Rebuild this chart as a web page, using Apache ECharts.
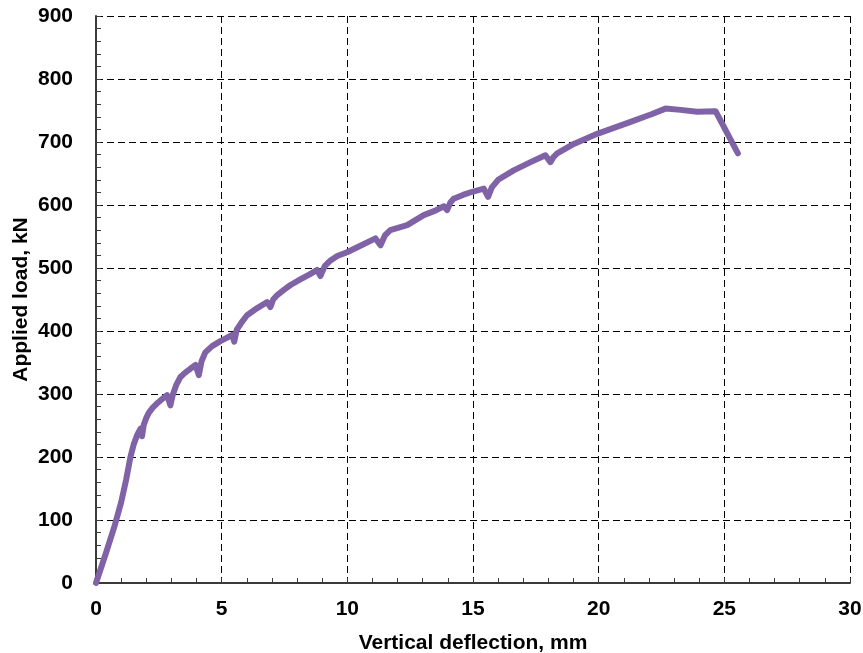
<!DOCTYPE html>
<html>
<head>
<meta charset="utf-8">
<script src="https://cdn.jsdelivr.net/npm/echarts@6/dist/echarts.min.js"></script>
<style>
  html, body { margin: 0; padding: 0; background: #ffffff; }
  #chart { width: 863px; height: 653px; }
</style>
</head>
<body>
<div id="chart"></div>
<script>
// 读图得到的数据点 (mm, kN)
const deflection = [
  0, 0.4, 0.75, 1.0, 1.2, 1.37, 1.5, 1.65, 1.77, 1.83, 1.9, 2.0,
  2.1, 2.25, 2.4, 2.6, 2.83, 2.96, 3.05, 3.2, 3.36, 3.55, 3.75, 3.96, 4.09,
  4.2, 4.35, 4.62, 4.95, 5.2, 5.42, 5.5, 5.6, 5.8, 6.01, 6.4, 6.81, 6.94, 7.05,
  7.21, 7.5, 7.74, 8.13, 8.5, 8.8, 8.93, 9.1, 9.33, 9.6, 9.99, 10.5, 11.12,
  11.32, 11.5, 11.71, 12.38, 13.04, 13.5, 13.84, 13.97, 14.1, 14.23, 14.6,
  14.97, 15.43, 15.6, 15.75, 16.0, 16.62, 17.29, 17.88, 18.08, 18.2, 18.35,
  19.01, 19.94, 21.27, 22.1, 22.66, 23.26, 23.92, 24.65, 25.54
]
const load = [
  0, 48, 92, 128, 164, 200, 220, 236, 245, 233, 251, 262,
  270, 278, 284, 291, 298, 282, 298, 315, 327, 334, 340, 346, 330,
  352, 366, 376, 384, 389, 394, 383, 402, 414, 425, 436, 446, 438, 450,
  457, 466, 473, 482, 490, 497, 487, 503, 512, 519, 525, 535, 547,
  536, 552, 560, 568, 584, 591, 598, 592, 604, 610, 616,
  621, 626, 613, 628, 640, 655, 668, 679, 668, 676, 682,
  697, 713, 732, 744, 753, 751, 748, 749, 682
]
const xTicks = [0, 5, 10, 15, 20, 25, 30]
const yTicks = [0, 100, 200, 300, 400, 500, 600, 700, 800, 900]

const points = deflection.map((x, i) => [x, load[i]])

const font = 'Liberation Sans, Arial, sans-serif'
const dashLine = {
  show: true,
  lineStyle: { color: '#000000', width: 1, type: [7, 4] },
}

const chart = echarts.init(document.getElementById('chart'))
chart.setOption({
  animation: false,
  grid: {
    left: 96,
    right: 13,
    top: 16,
    bottom: 70,
    containLabel: false,
    outerBoundsMode: 'none',
  },
  xAxis: {
    type: 'value',
    min: xTicks[0],
    max: xTicks[xTicks.length - 1],
    interval: 5,
    name: 'Vertical deflection, mm',
    nameLocation: 'middle',
    nameGap: 50,
    nameMoveOverlap: false,
    nameTextStyle: { color: '#000000', fontFamily: font, fontWeight: 'bold', fontSize: 21 },
    axisLine: { show: true, onZero: false, lineStyle: { color: '#3a3a3a', width: 2 } },
    axisTick: { show: true, inside: true, length: 5, lineStyle: { color: '#3a3a3a' } },
    minorTick: { show: true, splitNumber: 5, length: 5, lineStyle: { color: '#3a3a3a' } },
    axisLabel: { color: '#000000', fontFamily: font, fontWeight: 'bold', fontSize: 21, margin: 16 },
    splitLine: dashLine,
  },
  yAxis: {
    type: 'value',
    min: yTicks[0],
    max: yTicks[yTicks.length - 1],
    interval: 100,
    name: 'Applied load, kN',
    nameLocation: 'middle',
    nameGap: 64,
    nameMoveOverlap: false,
    nameTextStyle: { color: '#000000', fontFamily: font, fontWeight: 'bold', fontSize: 21 },
    axisLine: { show: true, onZero: false, lineStyle: { color: '#3a3a3a', width: 2 } },
    axisTick: { show: true, inside: true, length: 5, lineStyle: { color: '#3a3a3a' } },
    minorTick: { show: true, splitNumber: 5, length: 5, lineStyle: { color: '#3a3a3a' } },
    axisLabel: { color: '#000000', fontFamily: font, fontWeight: 'bold', fontSize: 21, margin: 23 },
    splitLine: dashLine,
  },
  series: [
    {
      type: 'line',
      data: points,
      symbol: 'none',
      smooth: false,
      lineStyle: { color: '#7F63A6', width: 6, cap: 'round', join: 'round' },
    },
  ],
})
</script>
</body>
</html>
